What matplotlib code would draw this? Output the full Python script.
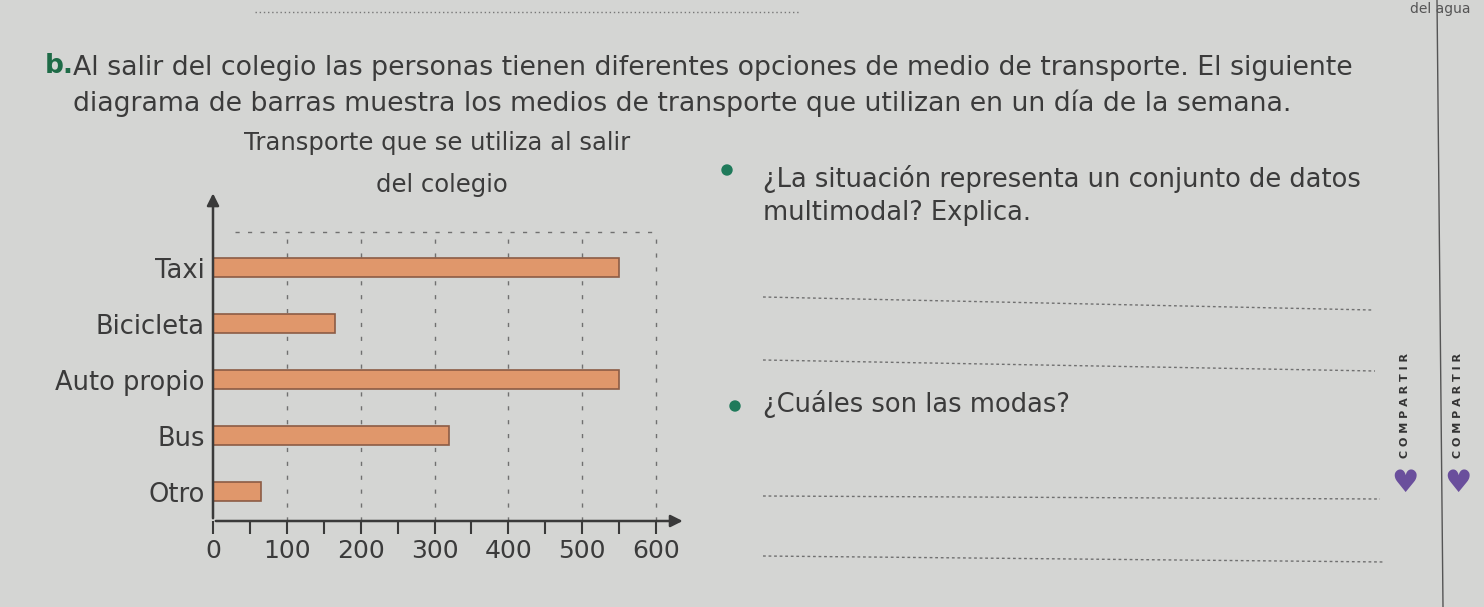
import matplotlib
matplotlib.use("Agg")
import matplotlib.pyplot as plt
from matplotlib.patches import Ellipse

# datos del diagrama
categorias = ["Taxi", "Bicicleta", "Auto propio", "Bus", "Otro"]
personas = [550, 165, 550, 320, 65]
ticks_x = [0, 100, 200, 300, 400, 500, 600]

W, H = 1484, 607
fig = plt.figure(figsize=(W / 100, H / 100), dpi=100)
fig.patch.set_facecolor("#d4d5d3")

FONT = ["DejaVu Sans"]
TXT = "#3b3b3b"


def fx(x):
    return x / W


def fy(y):
    return 1 - y / H


def texto(x, y, s, size, **kw):
    kw.setdefault("color", TXT)
    kw.setdefault("family", FONT)
    kw.setdefault("va", "center")
    fig.text(fx(x), fy(y), s, fontsize=size, **kw)


def linea(x0, y0, x1, y1, **kw):
    fig.add_artist(plt.Line2D([fx(x0), fx(x1)], [fy(y0), fy(y1)], **kw))


# enunciado
texto(45, 66, "b.", 19, color="#1e6b47", weight="bold")
texto(73, 68, "Al salir del colegio las personas tienen diferentes opciones de medio de "
      "transporte. El siguiente", 19.3)
texto(73, 103, "diagrama de barras muestra los medios de transporte que utilizan en un "
      "día de la semana.", 19.3)

# titulo del grafico
texto(437, 143, "Transporte que se utiliza al salir", 17.5, ha="center")
texto(442, 185, "del colegio", 17.5, ha="center")

# grafico de barras
ax = fig.add_axes([213 / W, 1 - 521 / H, 443 / W, 326 / H])
ax.set_facecolor("none")
y = list(range(len(categorias)))[::-1]
ax.barh(y, personas, height=0.34, color="#e0976b", edgecolor="#8c5c45", lw=1.2, zorder=3)
ax.set_xlim(0, 600)
ax.set_ylim(-0.52, 5.3)

for v in ticks_x[1:]:
    ax.plot([v, v], [-0.52, 4.64], ls=(0, (3, 7)), color="#707070", lw=1, zorder=1,
            clip_on=False)
ax.plot([30, 600], [4.64, 4.64], ls=(0, (3, 6)), color="#707070", lw=1, zorder=1,
        clip_on=False)

for s in ax.spines.values():
    s.set_visible(False)
ax.annotate("", xy=(640, -0.52), xytext=(0, -0.52),
            arrowprops=dict(arrowstyle="-|>", color="#3a3a3a", lw=1.8, mutation_scale=18),
            annotation_clip=False)
ax.annotate("", xy=(0, 5.38), xytext=(0, -0.52),
            arrowprops=dict(arrowstyle="-|>", color="#3a3a3a", lw=1.8, mutation_scale=18),
            annotation_clip=False)

ax.set_xticks(range(0, 601, 50))
ax.set_xticklabels([str(v) if v % 100 == 0 else "" for v in range(0, 601, 50)],
                   fontsize=18, color=TXT, family=FONT)
ax.tick_params(axis="x", direction="out", length=9, width=1.5, color="#3a3a3a", pad=4)
ax.set_yticks(y)
ax.set_yticklabels(categorias, fontsize=18.5, color=TXT, family=FONT)
ax.tick_params(axis="y", length=0, pad=6)

# preguntas
fig.add_artist(Ellipse((fx(727), fy(170)), 10 / W, 10 / H, color="#1f7a5a"))
texto(763, 179, "¿La situación representa un conjunto de datos", 18.5)
texto(763, 213, "multimodal? Explica.", 18.5)
fig.add_artist(Ellipse((fx(735), fy(406)), 10 / W, 10 / H, color="#1f7a5a"))
texto(763, 404, "¿Cuáles son las modas?", 18.5)

for x0, y0, x1, y1 in [(763, 297, 1372, 310), (763, 360, 1375, 371),
                       (763, 496, 1380, 499), (763, 556, 1385, 562)]:
    linea(x0, y0, x1, y1, color="#707070", lw=1, ls=(0, (2, 2)))

# margen derecho
linea(1437, 0, 1443, 607, color="#555555", lw=1)
for xc in [1405, 1458]:
    texto(xc, 405, "C O M P A R T I R", 8, ha="center", rotation=90,
          family="DejaVu Sans", weight="bold", color="#333333")
    texto(xc, 484, "\u2665", 22, ha="center", color="#6a4f9c")

# restos de la pagina anterior
linea(255, 12, 800, 12, color="#777777", lw=1, ls=(0, (1, 2)))
texto(1440, 9, "del agua", 10, ha="center", color="#555555")

fig.savefig("out.png", dpi=100, facecolor=fig.get_facecolor())
